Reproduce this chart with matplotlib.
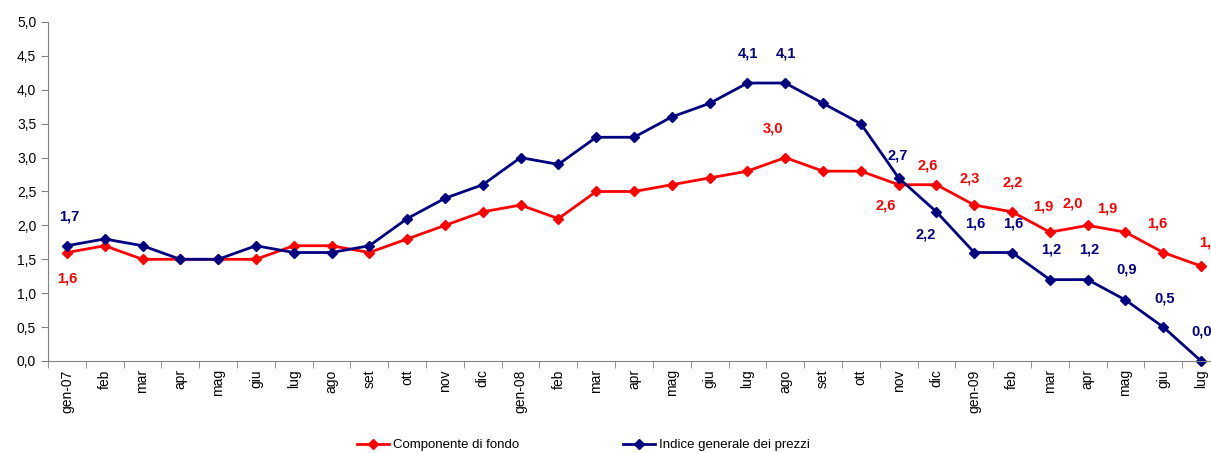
import matplotlib
matplotlib.use("Agg")
import matplotlib.pyplot as plt
from matplotlib.ticker import FuncFormatter

plt.rcParams['font.family'] = ['Liberation Sans Narrow', 'Liberation Sans', 'DejaVu Sans']

months = ["gen-07", "feb", "mar", "apr", "mag", "giu", "lug", "ago", "set", "ott", "nov", "dic",
          "gen-08", "feb", "mar", "apr", "mag", "giu", "lug", "ago", "set", "ott", "nov", "dic",
          "gen-09", "feb", "mar", "apr", "mag", "giu", "lug"]

fondo = [1.6, 1.7, 1.5, 1.5, 1.5, 1.5, 1.7, 1.7, 1.6, 1.8, 2.0, 2.2,
         2.3, 2.1, 2.5, 2.5, 2.6, 2.7, 2.8, 3.0, 2.8, 2.8, 2.6, 2.6,
         2.3, 2.2, 1.9, 2.0, 1.9, 1.6, 1.4]

indice = [1.7, 1.8, 1.7, 1.5, 1.5, 1.7, 1.6, 1.6, 1.7, 2.1, 2.4, 2.6,
          3.0, 2.9, 3.3, 3.3, 3.6, 3.8, 4.1, 4.1, 3.8, 3.5, 2.7, 2.2,
          1.6, 1.6, 1.2, 1.2, 0.9, 0.5, 0.0]

# which points get a value label, and the pixel offset of the label
fondo_labels = {0: (0, -26), 19: (-12, 29), 22: (-13, -21), 23: (-9, 19), 24: (-5, 27),
                25: (1, 29), 26: (-7, 26), 27: (-15, 22), 28: (-18, 24), 29: (-6, 29), 30: (8, 24)}
indice_labels = {0: (2, 29), 18: (1, 30), 19: (1, 30), 22: (-1, 22), 23: (-11, -23),
                 24: (1, 29), 25: (1, 29), 26: (1, 30), 27: (2, 30), 28: (1, 30),
                 29: (1, 29), 30: (1, 29)}

RED = "#FF0000"
BLUE = "#000080"

fig = plt.figure(figsize=(12.11, 4.53), dpi=100)
ax = fig.add_axes([48 / 1211, 1 - 361 / 453, (1220 - 48) / 1211, (361 - 22) / 453])

x = list(range(len(months)))
l1, = ax.plot(x, fondo, color=RED, lw=2, marker="D", ms=5, label="Componente di fondo", clip_on=False)
l2, = ax.plot(x, indice, color=BLUE, lw=2, marker="D", ms=5, label="Indice generale dei prezzi", clip_on=False)

for i, (dx, dy) in fondo_labels.items():
    ax.annotate(f"{fondo[i]:.1f}".replace(".", ","), (i, fondo[i]), xytext=(dx, dy),
                textcoords="offset pixels", ha="center", va="center", color=RED,
                fontsize=10.5, fontweight="bold", annotation_clip=False)
for i, (dx, dy) in indice_labels.items():
    ax.annotate(f"{indice[i]:.1f}".replace(".", ","), (i, indice[i]), xytext=(dx, dy),
                textcoords="offset pixels", ha="center", va="center", color=BLUE,
                fontsize=10.5, fontweight="bold", annotation_clip=False)

ax.set_xlim(-0.5, len(months) - 0.5)
ax.set_ylim(0, 5)
ax.set_yticks([i * 0.5 for i in range(11)])
ax.yaxis.set_major_formatter(FuncFormatter(lambda v, p: f"{v:.1f}".replace(".", ",")))
ax.set_xticks(x)
ax.set_xticklabels(months, rotation=90)
ax.set_xticks([i - 0.5 for i in range(len(months) + 1)], minor=True)
ax.tick_params(axis="x", which="major", length=0, pad=6, labelsize=10)
ax.tick_params(axis="x", which="minor", length=5, color="#808080")
ax.tick_params(axis="y", length=5, color="#808080", labelsize=10)

for s in ["top", "right"]:
    ax.spines[s].set_visible(False)
for s in ["left", "bottom"]:
    ax.spines[s].set_color("#808080")

# two separate legend entries, placed like the original
for line, xpos in [(l1, 357), (l2, 623)]:
    fig.legend(handles=[line], loc="center left", bbox_to_anchor=(xpos / 1211, 1 - 445 / 453),
               frameon=False, fontsize=9.5, handlelength=2.4, handletextpad=0.3,
               borderpad=0, borderaxespad=0)

fig.savefig("out.png", dpi=100)
